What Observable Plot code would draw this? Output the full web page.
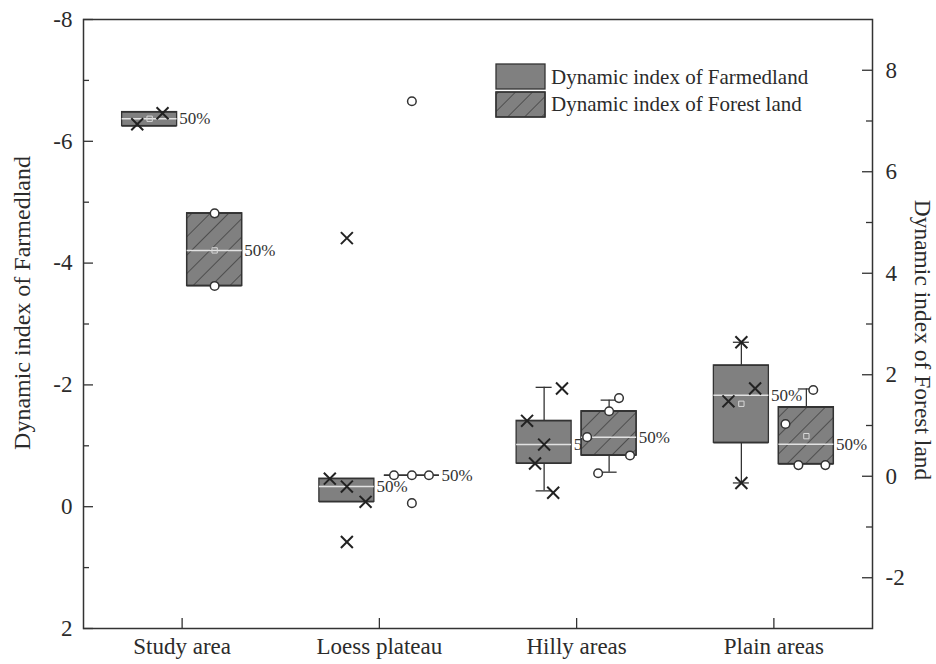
<!DOCTYPE html>
<html><head><meta charset="utf-8">
<script src="https://cdn.jsdelivr.net/npm/d3@7"></script>
<script src="https://cdn.jsdelivr.net/npm/@observablehq/plot@0.6"></script>
<style>
body{margin:0;background:#fff;}
#wrap{position:relative;width:936px;height:664px;font-family:"Liberation Serif","Times New Roman",serif;color:#2b2b2b;}
#legend{position:absolute;left:494px;top:62px;}
</style></head><body>
<div id="wrap"><div id="chart"></div>
<svg id="legend" width="340" height="60">
  <defs><pattern id="hatchL" patternUnits="userSpaceOnUse" width="12" height="12" patternTransform="rotate(45)"><line x1="0" y1="0" x2="0" y2="12" stroke="#333" stroke-width="1.3"/></pattern></defs>
  <rect x="2" y="2" width="49" height="25" fill="#808080" stroke="#333" stroke-width="1.3"/>
  <rect x="2" y="30" width="49" height="25" fill="#808080" stroke="#333" stroke-width="1.3"/>
  <rect x="2" y="30" width="49" height="25" fill="url(#hatchL)" stroke="#333" stroke-width="1.3"/>
  <text x="57" y="15" dominant-baseline="central" font-size="21" fill="#2b2b2b" font-family="Liberation Serif">Dynamic index of Farmedland</text>
  <text x="57" y="42" dominant-baseline="central" font-size="21" fill="#2b2b2b" font-family="Liberation Serif">Dynamic index of Forest land</text>
</svg>
</div>
<script>
const categories = ["Study area", "Loess plateau", "Hilly areas", "Plain areas"];
const leftTitle = "Dynamic index of Farmedland";
const rightTitle = "Dynamic index of Forest land";
const leftTicks = [-8, -6, -4, -2, 0, 2];
const leftMinor = [-7, -5, -3, -1, 1];
const rightTicks = [-2, 0, 2, 4, 6, 8];
const rightMinor = [-1, 1, 3, 5, 7];

// Farmland (left axis, reversed)
const farmBoxLow = [-6.48, -0.46, -1.41, -2.32];
const farmBoxHigh = [-6.25, -0.08, -0.71, -1.05];
const farmMedian = [-6.37, -0.33, -1.02, -1.83];
const farmWhiskerA = [null, null, -1.96, -2.70];
const farmWhiskerB = [null, null, -0.26, -0.39];
const farmMean = [-6.37, null, null, -1.69];
const farmPoints = [[-6.28, -6.46], [-0.46, -0.33, -0.08, -4.41, 0.58], [-1.94, -1.41, -1.02, -0.71, -0.23], [-2.70, -1.94, -1.73, -0.39]];
const farmJitter = [[-0.45, 0.47], [-0.62, 0, 0.68, 0, 0], [0.65, -0.62, 0, -0.33, 0.33], [0, 0.5, -0.47, 0]];

// Forest land (right axis)
const forestBoxLow = [3.75, 0.02, 0.41, 0.24];
const forestBoxHigh = [5.18, 0.02, 1.28, 1.36];
const forestMedian = [4.45, 0.02, 0.77, 0.63];
const forestWhiskerA = [null, null, 0.08, null];
const forestWhiskerB = [null, null, 1.50, 1.72];
const forestMean = [4.45, null, null, 0.79];
const forestPoints = [[5.18, 3.75], [0.02, 0.02, 0.02, 7.39, -0.53], [1.54, 1.28, 0.77, 0.41, 0.06], [1.70, 1.03, 0.22, 0.22]];
const forestJitter = [[0, 0], [-0.65, 0, 0.62, 0, 0], [0.36, 0, -0.8, 0.76, -0.4], [0.25, -0.76, -0.29, 0.69]];

// layout
const W = 936, H = 664, mL = 83, mR = 64, mT = 19, mB = 36;
const xDomain = [-0.5, 3.5], yDomain = [2, -8], rightDomain = [-3, 9];
const kx = (xDomain[1] - xDomain[0]) / (W - mL - mR);
const ky = (yDomain[0] - yDomain[1]) / (H - mT - mB);
const groupOffset = 32.5 * kx, boxHalf = 27.5 * kx, capHalf = 8 * kx;
const toLeft = v => yDomain[0] + (v - rightDomain[0]) / (rightDomain[1] - rightDomain[0]) * (yDomain[1] - yDomain[0]);
const fromLeft = u => rightDomain[0] + (u - yDomain[0]) / (yDomain[1] - yDomain[0]) * (rightDomain[1] - rightDomain[0]);

function build(side, lo, hi, med, wa, wb, mean, pts, jit, conv) {
  const boxes = categories.map((c, i) => ({
    i, x: i + side * groupOffset, lo: conv(lo[i]), hi: conv(hi[i]), med: conv(med[i]),
    mean: mean[i] == null ? null : conv(mean[i])
  }));
  const whiskers = [];
  categories.forEach((c, i) => {
    for (const w of [wa[i], wb[i]]) {
      if (w == null) continue;
      const b = boxes[i], wv = conv(w);
      const edge = Math.abs(wv - b.lo) < Math.abs(wv - b.hi) ? b.lo : b.hi;
      whiskers.push({x: b.x, w: wv, edge});
    }
  });
  const points = [];
  pts.forEach((arr, i) => arr.forEach((v, j) => points.push({x: boxes[i].x + jit[i][j] * boxHalf, y: conv(v)})));
  return {boxes, whiskers, points};
}
const farm = build(-1, farmBoxLow, farmBoxHigh, farmMedian, farmWhiskerA, farmWhiskerB, farmMean, farmPoints, farmJitter, v => v);
const forest = build(1, forestBoxLow, forestBoxHigh, forestMedian, forestWhiskerA, forestWhiskerB, forestMean, forestPoints, forestJitter, toLeft);

const ink = "#333", boxFill = "#808080";
function boxMarks(s, hatch) {
  const m = [
    Plot.ruleX(s.whiskers, {x: "x", y1: "w", y2: "edge", stroke: ink, strokeWidth: 1.3}),
    Plot.ruleY(s.whiskers, {y: "w", x1: d => d.x - capHalf, x2: d => d.x + capHalf, stroke: ink, strokeWidth: 1.3}),
    Plot.rect(s.boxes, {x1: d => d.x - boxHalf, x2: d => d.x + boxHalf, y1: "lo", y2: "hi", fill: boxFill, stroke: ink, strokeWidth: 1.3})
  ];
  if (hatch) m.push(Plot.rect(s.boxes, {x1: d => d.x - boxHalf, x2: d => d.x + boxHalf, y1: "lo", y2: "hi", fill: "url(#hatch)", stroke: ink, strokeWidth: 1.3}));
  m.push(
    Plot.ruleY(s.boxes, {y: "lo", x1: d => d.x - boxHalf, x2: d => d.x + boxHalf, stroke: ink, strokeWidth: 1.3}),
    Plot.ruleY(s.boxes, {y: "hi", x1: d => d.x - boxHalf, x2: d => d.x + boxHalf, stroke: ink, strokeWidth: 1.3}),
    Plot.ruleY(s.boxes.filter(d => d.lo !== d.hi), {y: "med", x1: d => d.x - boxHalf, x2: d => d.x + boxHalf, stroke: "#e2e2e2", strokeWidth: 1.5}),
    Plot.dot(s.boxes.filter(d => d.mean != null), {x: "x", y: "mean", symbol: "square", r: 3, stroke: "#d8d8d8", strokeWidth: 1, fill: "none"}),
    Plot.text(s.boxes, {x: d => d.x + boxHalf, y: "med", text: () => "50%", textAnchor: "start", dx: 2, fontSize: 17, fill: ink})
  );
  return m;
}

const chart = Plot.plot({
  width: W, height: H,
  marginLeft: mL, marginRight: mR, marginTop: mT, marginBottom: mB,
  x: {domain: xDomain, axis: null},
  y: {domain: yDomain, axis: null},
  style: {fontFamily: "Liberation Serif", fontSize: "23px", color: "#2b2b2b", background: "white"},
  marks: [
    ...boxMarks(farm, false),
    Plot.dot(farm.points, {x: "x", y: "y", symbol: "times", r: 5.5, stroke: "#222", strokeWidth: 2}),
    ...boxMarks(forest, true),
    Plot.dot(forest.points, {x: "x", y: "y", symbol: "circle", r: 4.3, fill: "white", stroke: ink, strokeWidth: 1.5}),
    Plot.frame({stroke: ink, strokeWidth: 1.5}),
    // ticks (inward)
    Plot.ruleY(leftTicks, {y: d => d, x1: xDomain[0], x2: xDomain[0] + 10 * kx, stroke: ink, strokeWidth: 1.3}),
    Plot.ruleY(leftMinor, {y: d => d, x1: xDomain[0], x2: xDomain[0] + 6 * kx, stroke: ink, strokeWidth: 1.3}),
    Plot.ruleY(rightTicks, {y: d => toLeft(d), x1: xDomain[1] - 10 * kx, x2: xDomain[1], stroke: ink, strokeWidth: 1.3}),
    Plot.ruleY(rightMinor, {y: d => toLeft(d), x1: xDomain[1] - 6 * kx, x2: xDomain[1], stroke: ink, strokeWidth: 1.3}),
    Plot.ruleX(categories.map((c, i) => i), {x: d => d, y1: yDomain[0], y2: yDomain[0] - 10 * ky, stroke: ink, strokeWidth: 1.3}),
    // axes labels
    Plot.axisY({anchor: "left", ticks: leftTicks, tickSize: 0, tickPadding: 11, tickFormat: d => String(d), label: null}),
    Plot.axisY({anchor: "right", ticks: rightTicks.map(toLeft), tickSize: 0, tickPadding: 13, tickFormat: u => String(Math.round(fromLeft(u))), label: null}),
    Plot.axisX({ticks: categories.map((c, i) => i), tickSize: 0, tickPadding: 9, tickFormat: i => categories[i], label: null}),
    Plot.text([leftTitle], {frameAnchor: "left", textAnchor: "middle", text: d => d, rotate: -90, dx: -61, dy: -21, fontSize: 24}),
    Plot.text([rightTitle], {frameAnchor: "right", textAnchor: "middle", text: d => d, rotate: 90, dx: 50, dy: 16, fontSize: 23.5})
  ]
});
d3.select(chart).insert("defs", ":first-child").html(
  '<pattern id="hatch" patternUnits="userSpaceOnUse" width="13" height="13" patternTransform="rotate(45)"><line x1="0" y1="0" x2="0" y2="13" stroke="#333" stroke-width="1.3"/></pattern>');
document.getElementById("chart").appendChild(chart);
</script>
</body></html>
